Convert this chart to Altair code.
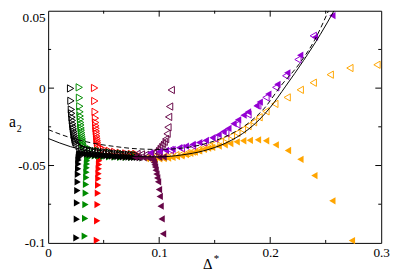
import altair as alt
import pandas as pd

# ---------------- data ----------------
black_open_x = [0.0202, 0.0205, 0.0209, 0.0212, 0.0215, 0.0218, 0.0221, 0.0224, 0.0227, 0.0230, 0.0233, 0.0236,
                0.0239, 0.0242, 0.0246, 0.0250, 0.0260, 0.0280, 0.0300, 0.0325, 0.0350, 0.0375, 0.0400, 0.0425,
                0.0450, 0.0475, 0.0500, 0.0525, 0.0550, 0.0575, 0.0600, 0.0625, 0.0650, 0.0675, 0.0700, 0.0725,
                0.0750, 0.0775, 0.0800]
black_open_y = [-0.0002, -0.0082, -0.0138, -0.0163, -0.0188, -0.0209, -0.0230, -0.0247, -0.0263, -0.0279, -0.0293,
                -0.0306, -0.0318, -0.0330, -0.0340, -0.0350, -0.0362, -0.0375, -0.0385, -0.0392, -0.0397, -0.0401,
                -0.0404, -0.0407, -0.0410, -0.0412, -0.0414, -0.0416, -0.0418, -0.0420, -0.0422, -0.0424, -0.0426,
                -0.0427, -0.0429, -0.0430, -0.0432, -0.0433, -0.0434]

black_filled_x = [0.0255, 0.0258, 0.0260, 0.0263, 0.0266, 0.0268, 0.0270, 0.0272, 0.0274, 0.0276, 0.0278, 0.0280,
                  0.0282, 0.0300, 0.0325, 0.0350, 0.0375, 0.0400, 0.0425, 0.0450, 0.0475, 0.0500, 0.0525, 0.0550,
                  0.0575, 0.0600, 0.0625, 0.0650, 0.0675, 0.0700, 0.0725, 0.0750, 0.0775, 0.0800, 0.0825, 0.0850]
black_filled_y = [-0.0968, -0.0847, -0.0742, -0.0662, -0.0606, -0.0557, -0.0521, -0.0490, -0.0465, -0.0450,
                  -0.0438, -0.0428, -0.0421, -0.0423, -0.0425, -0.0427, -0.0429, -0.0430, -0.0432, -0.0434,
                  -0.0435, -0.0436, -0.0437, -0.0438, -0.0439, -0.0441, -0.0442, -0.0443, -0.0444, -0.0445,
                  -0.0446, -0.0447, -0.0448, -0.0448, -0.0449, -0.0450]

green_open_x = [0.0280, 0.0282, 0.0285, 0.0287, 0.0289, 0.0291, 0.0293, 0.0295, 0.0297, 0.0299, 0.0301, 0.0303,
                0.0305, 0.0307, 0.0309, 0.0311, 0.0313, 0.0315, 0.0318, 0.0340, 0.0380, 0.0450, 0.0550, 0.0650,
                0.0750, 0.0790]
green_open_y = [0.0005, -0.0062, -0.0117, -0.0153, -0.0180, -0.0201, -0.0222, -0.0238, -0.0257, -0.0272, -0.0287,
                -0.0300, -0.0313, -0.0325, -0.0336, -0.0346, -0.0356, -0.0366, -0.0375, -0.0385, -0.0395, -0.0405,
                -0.0415, -0.0423, -0.0430, -0.0433]

green_filled_x = [0.0330, 0.0333, 0.0336, 0.0339, 0.0341, 0.0343, 0.0345, 0.0347, 0.0349, 0.0351, 0.0353, 0.0355,
                  0.0380, 0.0420, 0.0460, 0.0500, 0.0550, 0.0600, 0.0650, 0.0700, 0.0750, 0.0790]
green_filled_y = [-0.0956, -0.0842, -0.0752, -0.0679, -0.0622, -0.0578, -0.0543, -0.0515, -0.0490, -0.0469,
                  -0.0455, -0.0445, -0.0437, -0.0438, -0.0440, -0.0442, -0.0444, -0.0446, -0.0447, -0.0448,
                  -0.0447, -0.0442]

red_open_x = [0.0418, 0.0420, 0.0423, 0.0426, 0.0428, 0.0430, 0.0432, 0.0434, 0.0436, 0.0438, 0.0440, 0.0442,
              0.0444, 0.0446, 0.0448, 0.0470, 0.0500, 0.0550, 0.0600, 0.0650, 0.0700, 0.0750, 0.0790]
red_open_y = [0.0001, -0.0083, -0.0153, -0.0194, -0.0222, -0.0243, -0.0260, -0.0278, -0.0293, -0.0310, -0.0325,
              -0.0338, -0.0350, -0.0362, -0.0373, -0.0385, -0.0395, -0.0405, -0.0412, -0.0418, -0.0422, -0.0425,
              -0.0425]

red_filled_x = [0.0439, 0.0442, 0.0445, 0.0448, 0.0450, 0.0452, 0.0454, 0.0456, 0.0458, 0.0460, 0.0462, 0.0464,
                0.0466, 0.0500, 0.0550, 0.0600, 0.0650, 0.0700, 0.0750, 0.0790]
red_filled_y = [-0.0983, -0.0857, -0.0752, -0.0679, -0.0626, -0.0584, -0.0553, -0.0521, -0.0494, -0.0469, -0.0455,
                -0.0445, -0.0438, -0.0436, -0.0438, -0.0440, -0.0441, -0.0442, -0.0441, -0.0437]

maroon_open_x = [0.0800, 0.0840, 0.0880, 0.0920, 0.0950, 0.0970, 0.0985, 0.1000, 0.1015, 0.1030, 0.1045, 0.1058,
                 0.1071, 0.1079, 0.1085, 0.1094, 0.1109]
maroon_open_y = [-0.0425, -0.0428, -0.0430, -0.0428, -0.0422, -0.0412, -0.0400, -0.0387, -0.0373, -0.0360, -0.0347,
                 -0.0329, -0.0295, -0.0253, -0.0186, -0.0119, -0.0012]

maroon_filled_x = [0.0780, 0.0820, 0.0860, 0.0900, 0.0930, 0.0945, 0.0952, 0.0958, 0.0963, 0.0968, 0.0975, 0.0982,
                   0.0990, 0.0998, 0.1005, 0.1013, 0.1022, 0.1035, 0.1000, 0.1040]
maroon_filled_y = [-0.0445, -0.0448, -0.0450, -0.0452, -0.0455, -0.0465, -0.0480, -0.0495, -0.0510, -0.0530,
                   -0.0555, -0.0580, -0.0605, -0.0655, -0.0700, -0.0763, -0.0845, -0.0941, -0.0447, -0.0445]

orange_open_x = [0.092, 0.096, 0.100, 0.105, 0.110, 0.115, 0.120, 0.125, 0.130, 0.135, 0.140, 0.145, 0.150, 0.155,
                 0.160, 0.165, 0.170, 0.175, 0.180, 0.185, 0.190, 0.1962, 0.2042, 0.2153, 0.2271, 0.2388, 0.2541,
                 0.2718, 0.2962]
orange_open_y = [-0.0440, -0.0442, -0.0442, -0.0440, -0.0437, -0.0433, -0.0428, -0.0420, -0.0410, -0.0400, -0.0388,
                 -0.0375, -0.0360, -0.0345, -0.0328, -0.0310, -0.0290, -0.0268, -0.0245, -0.0220, -0.0188, -0.0150,
                 -0.0102, -0.0060, -0.0011, 0.0035, 0.0087, 0.0130, 0.0151]

orange_filled_x = [0.088, 0.092, 0.096, 0.100, 0.104, 0.108, 0.112, 0.116, 0.120, 0.124, 0.128, 0.132, 0.136,
                   0.140, 0.144, 0.1477, 0.1536, 0.1590, 0.1640, 0.1698, 0.1757, 0.1816, 0.1890, 0.1963, 0.2050,
                   0.2160, 0.2272, 0.2398, 0.2560, 0.2736]
orange_filled_y = [-0.0455, -0.0458, -0.0458, -0.0457, -0.0455, -0.0452, -0.0448, -0.0443, -0.0437, -0.0430,
                   -0.0422, -0.0413, -0.0405, -0.0395, -0.0388, -0.0383, -0.0374, -0.0366, -0.0358, -0.0347,
                   -0.0340, -0.0337, -0.0334, -0.0340, -0.0366, -0.0403, -0.0460, -0.0565, -0.0728, -0.0985]

violet_open_x = [0.100, 0.110, 0.120, 0.130, 0.140, 0.150, 0.160, 0.170, 0.180, 0.1888, 0.1962, 0.2050, 0.2140,
                 0.2250, 0.2388]
violet_open_y = [-0.0418, -0.0400, -0.0388, -0.0372, -0.0352, -0.0325, -0.0290, -0.0235, -0.0170, -0.0112, -0.0060,
                 0.0005, 0.0080, 0.0185, 0.0338]

violet_filled_x = [0.092, 0.100, 0.106, 0.112, 0.118, 0.124, 0.130, 0.136, 0.142, 0.148, 0.1535, 0.158, 0.1623,
                   0.167, 0.1711, 0.176, 0.180, 0.1877, 0.1906, 0.1983, 0.2065, 0.2154, 0.2270, 0.2403, 0.2560]
violet_filled_y = [-0.0418, -0.0410, -0.0403, -0.0395, -0.0385, -0.0375, -0.0364, -0.0352, -0.0338, -0.0320,
                   -0.0301, -0.0280, -0.0260, -0.0230, -0.0205, -0.0175, -0.0154, -0.0115, -0.0090, -0.0038,
                   0.0025, 0.0099, 0.0213, 0.0329, 0.0469]

solid_x = [0.0, 0.02, 0.04, 0.06, 0.08, 0.10, 0.12, 0.14, 0.16, 0.18, 0.19, 0.20, 0.214, 0.23, 0.245, 0.2575]
solid_y = [-0.0325, -0.0378, -0.0412, -0.0432, -0.0443, -0.0444, -0.0432, -0.0405, -0.0355, -0.0268, -0.0205,
           -0.0125, 0.0013, 0.0178, 0.0345, 0.0500]

dashed_x = [0.0, 0.02, 0.04, 0.06, 0.08, 0.10, 0.12, 0.14, 0.16, 0.18, 0.195, 0.2094, 0.226, 0.240, 0.2525]
dashed_y = [-0.0268, -0.0320, -0.0355, -0.0377, -0.0392, -0.0396, -0.0388, -0.0362, -0.0312, -0.0228, -0.0128,
            0.0013, 0.0155, 0.0310, 0.0500]

x_labels = [0, 0.1, 0.2, 0.3]
y_labels = [0.05, 0, -0.05, -0.1]
x_major = [0.1, 0.2]
x_minor = [0.05, 0.15, 0.25]
y_major = [0.0, -0.05]
y_minor = [0.025, -0.025, -0.075]

x_title, x_title_sup = "Δ", "*"
y_title, y_title_sub = "a", "2"

# ---------------- build tables ----------------
series_names = ["orange", "violet", "red", "green", "black", "maroon"]
series_colors = ["#FFA500", "#9400D3", "#FF0000", "#008B00", "#000000", "#670748"]
series_shapes = ["triangle-left", "triangle-left", "triangle-right", "triangle-right", "triangle-right",
                 "triangle-left"]

open_sets = [("orange", orange_open_x, orange_open_y), ("violet", violet_open_x, violet_open_y),
             ("red", red_open_x, red_open_y), ("green", green_open_x, green_open_y),
             ("black", black_open_x, black_open_y), ("maroon", maroon_open_x, maroon_open_y)]
filled_sets = [("orange", orange_filled_x, orange_filled_y), ("violet", violet_filled_x, violet_filled_y),
               ("red", red_filled_x, red_filled_y), ("green", green_filled_x, green_filled_y),
               ("black", black_filled_x, black_filled_y), ("maroon", maroon_filled_x, maroon_filled_y)]


def table(sets):
    rows = []
    for name, xs, ys in sets:
        for a, b in zip(xs, ys):
            rows.append({"s": name, "x": a, "y": b, "i": len(rows)})
    return pd.DataFrame(rows)


df_open = table(open_sets)
df_filled = table(filled_sets)
df_solid = pd.DataFrame({"x": solid_x, "y": solid_y})
df_dashed = pd.DataFrame({"x": dashed_x, "y": dashed_y})

W, H = 340, 237
FONT = "Liberation Serif, Times New Roman, serif"

xscale = alt.Scale(domain=[0, 0.3], nice=False, zero=False)
yscale = alt.Scale(domain=[-0.1, 0.05], nice=False, zero=False)

xaxis = alt.Axis(values=x_labels, labelExpr="'' + datum.value", ticks=False, domain=False, grid=False,
                 title=None, labelFont=FONT, labelFontSize=13.5, labelColor="black", labelPadding=3,
                 labelFlush=False, labelOverlap=False)
yaxis = alt.Axis(values=y_labels, labelExpr="'' + datum.value", ticks=False, domain=False, grid=False,
                 title=None, labelFont=FONT, labelFontSize=13.5, labelColor="black", labelPadding=3,
                 labelOverlap=False,
                 labelBaseline={"condition": {"test": "datum.value == 0.05", "value": "top"}, "value": "middle"})


def X(field):
    return alt.X(field, scale=xscale, axis=xaxis)


def Y(field):
    return alt.Y(field, scale=yscale, axis=yaxis)


color = alt.Color("s:N", scale=alt.Scale(domain=series_names, range=series_colors), legend=None)
shape = alt.Shape("s:N", scale=alt.Scale(domain=series_names, range=series_shapes), legend=None)

MS = 55
open_layer = alt.Chart(df_open).mark_point(filled=False, size=MS, strokeWidth=1, opacity=1).encode(
    x=X("x:Q"), y=Y("y:Q"), color=color, shape=shape, order=alt.Order("i:Q"))

filled_layer = alt.Chart(df_filled).mark_point(filled=True, size=MS, opacity=1).encode(
    x=X("x:Q"), y=Y("y:Q"), color=color, shape=shape, order=alt.Order("i:Q"))

solid_layer = alt.Chart(df_solid).mark_line(color="black", strokeWidth=1, interpolate="monotone", clip=True).encode(
    x=X("x:Q"), y=Y("y:Q"))
dashed_layer = alt.Chart(df_dashed).mark_line(color="black", strokeWidth=1, strokeDash=[5, 3],
                                              interpolate="monotone", clip=True).encode(
    x=X("x:Q"), y=Y("y:Q"))

# inward ticks on all four sides
xt = pd.DataFrame({"x": x_major + x_minor, "L": [6] * len(x_major) + [3] * len(x_minor)})
yt = pd.DataFrame({"y": y_major + y_minor, "L": [6] * len(y_major) + [3] * len(y_minor)})
tick_layers = []
for L in (6, 3):
    dx = xt[xt.L == L]
    dy = yt[yt.L == L]
    tick_layers += [
        alt.Chart(dx).mark_rule(color="black", strokeWidth=1).encode(
            x=X("x:Q"), y=alt.value(H), y2=alt.value(H - L)),
        alt.Chart(dx).mark_rule(color="black", strokeWidth=1).encode(
            x=X("x:Q"), y=alt.value(0), y2=alt.value(L)),
        alt.Chart(dy).mark_rule(color="black", strokeWidth=1).encode(
            y=Y("y:Q"), x=alt.value(0), x2=alt.value(L)),
        alt.Chart(dy).mark_rule(color="black", strokeWidth=1).encode(
            y=Y("y:Q"), x=alt.value(W), x2=alt.value(W - L)),
    ]


def label(txt, px, py, size, align="left"):
    return alt.Chart(pd.DataFrame({"t": [txt]})).mark_text(
        font=FONT, fontSize=size, color="black", align=align, baseline="alphabetic").encode(
        text="t:N", x=alt.value(px), y=alt.value(py))


texts = [
    label(x_title, 163, 264, 15, "center"),
    label(x_title_sup, 169, 256, 11),
    label(y_title, -40, 119, 16),
    label(y_title_sub, -32, 124, 10),
]

chart = alt.layer(open_layer, filled_layer, solid_layer, dashed_layer, *tick_layers, *texts).properties(
    width=W, height=H,
    autosize=alt.AutoSizeParams(type="none"),
    padding={"left": 41, "top": 0, "right": 10, "bottom": 32},
).configure_view(stroke="black", strokeWidth=1)

chart.save("out.html", embed_options={"renderer": "svg", "actions": False})
